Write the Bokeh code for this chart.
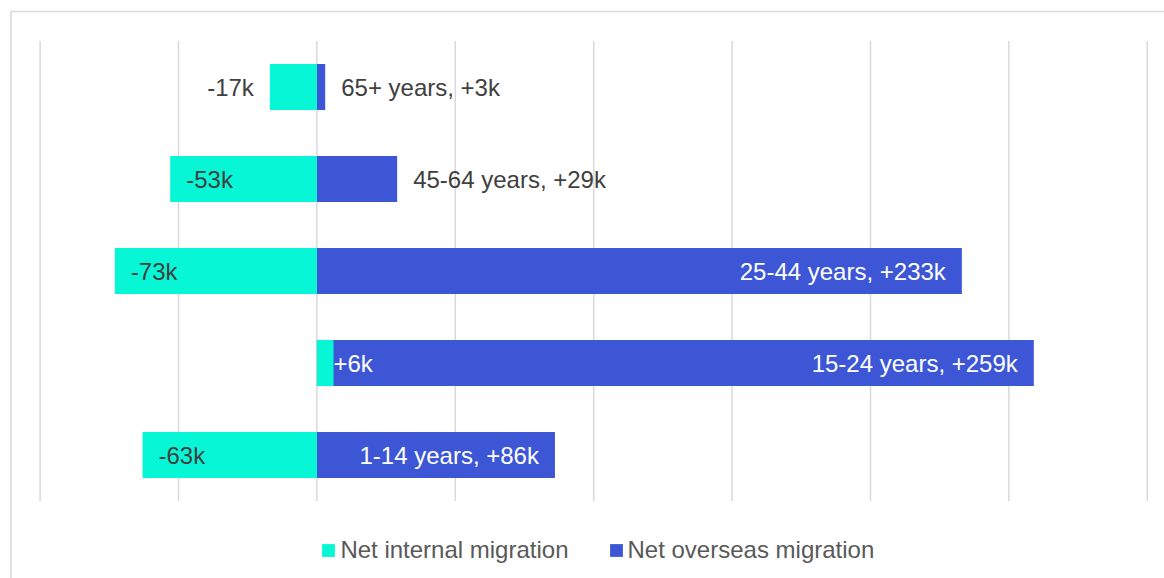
from bokeh.plotting import figure
from bokeh.models import Range1d, Legend, LegendItem, ColumnDataSource
from bokeh.embed import file_html
from bokeh.resources import INLINE
from bokeh.core.properties import value

# ---- data (thousands of people) ----
age_groups = ["65+ years", "45-64 years", "25-44 years", "15-24 years", "1-14 years"]
net_internal = [-17, -53, -73, 6, -63]
net_overseas = [3, 29, 233, 259, 86]
grid_ticks = [-100, -50, 0, 50, 100, 150, 200, 250, 300]
series_names = ["Net internal migration", "Net overseas migration"]

# ---- layout constants ----
W, H = 1164, 578
PX_PER_K = 2.768
X0_PX = 39.6          # pixel column of the first gridline
ROW_PX = 92.0
ROW0_PX = 86.5
CYAN = "#07F6D5"
BLUE = "#3D56D6"
GRID = "#D9D9D9"
DARK = "#404040"
FONT = "Liberation Sans"
FS = "24px"

x_start = grid_ticks[0] - X0_PX / PX_PER_K
x_end = x_start + W / PX_PER_K
y_top = -ROW0_PX / ROW_PX
y_bottom = y_top + H / ROW_PX

p = figure(width=W, height=H,
           x_range=Range1d(x_start, x_end), y_range=Range1d(y_bottom, y_top),
           output_backend="svg", toolbar_location=None,
           x_axis_location=None, y_axis_location=None,
           min_border=0, min_border_left=0, min_border_right=0,
           min_border_top=0, min_border_bottom=0,
           background_fill_color="white", border_fill_color="white",
           outline_line_color=None)
p.grid.visible = False

rows = list(range(len(age_groups)))

# chart frame (left + top edges)
fx = x_start + 10.5 / PX_PER_K
fy = y_top + 11 / ROW_PX
p.line(x=[fx, fx, x_end + 5], y=[y_bottom + 1, fy, fy], line_color=GRID, line_width=1.5)

# vertical gridlines spanning the category band
p.segment(x0=grid_ticks, x1=grid_ticks,
          y0=[rows[0] - 0.5] * len(grid_ticks), y1=[rows[-1] + 0.5] * len(grid_ticks),
          line_color=GRID, line_width=1.5)

blue = p.hbar(y=rows, left=0, right=net_overseas, height=0.5,
              fill_color=BLUE, line_color=None)
cyan = p.hbar(y=rows, left=0, right=net_internal, height=0.5,
              fill_color=CYAN, line_color=None)

# ---- data labels ----
labels = {}  # (align, color) -> dict of lists
def add(align, color, x, y, text, off):
    d = labels.setdefault((align, color), {"x": [], "y": [], "t": [], "o": []})
    d["x"].append(x); d["y"].append(y); d["t"].append(text); d["o"].append(off)

for i, v in enumerate(net_internal):
    t = f"{v:+d}k"
    if v < 0 and abs(v) > 30:
        add("left", DARK, v, i, t, 16)
    elif v < 0:
        add("right", DARK, v, i, t, -16)
    else:
        add("left", "white", v, i, t, 0)

for i, (g, v) in enumerate(zip(age_groups, net_overseas)):
    t = f"{g}, {v:+d}k"
    if v > 50:
        add("right", "white", v, i, t, -16)
    else:
        add("left", DARK, v, i, t, 16)

for (align, color), d in labels.items():
    src = ColumnDataSource(dict(x=d["x"], y=d["y"], t=d["t"], o=d["o"]))
    p.text(x="x", y="y", text="t", x_offset="o", source=src,
           text_align=align, text_baseline="middle", text_color=color,
           text_font=value(FONT), text_font_size=FS)

legend = Legend(items=[LegendItem(label=series_names[0], renderers=[cyan]),
                       LegendItem(label=series_names[1], renderers=[blue])],
                orientation="horizontal", location=(320.4, 14),
                glyph_width=16, glyph_height=16, label_standoff=4, spacing=39,
                padding=0, margin=0, border_line_color=None,
                background_fill_alpha=0,
                label_text_font=FONT, label_text_font_size=FS,
                label_text_color="#595959")
p.add_layout(legend)

open("out.html", "w").write(file_html(p, INLINE))
